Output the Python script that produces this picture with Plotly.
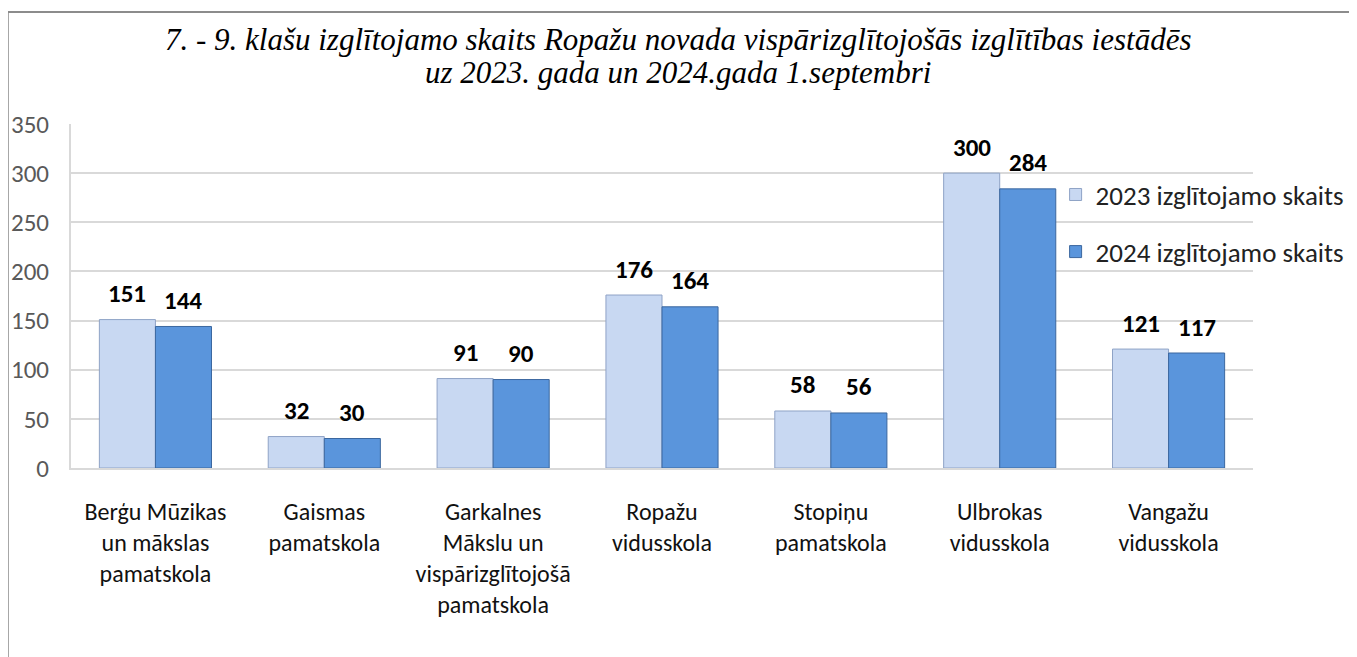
import plotly.graph_objects as go

categories = [
    "Berģu Mūzikas<br>un mākslas<br>pamatskola",
    "Gaismas<br>pamatskola",
    "Garkalnes<br>Mākslu un<br>vispārizglītojošā<br>pamatskola",
    "Ropažu<br>vidusskola",
    "Stopiņu<br>pamatskola",
    "Ulbrokas<br>vidusskola",
    "Vangažu<br>vidusskola",
]
series_names = ["2023 izglītojamo skaits", "2024 izglītojamo skaits"]
values_2023 = [151, 32, 91, 176, 58, 300, 121]
values_2024 = [144, 30, 90, 164, 56, 284, 117]
y_ticks = [0, 50, 100, 150, 200, 250, 300, 350]

title_lines = [
    "7. - 9. klašu izglītojamo skaits Ropažu novada vispārizglītojošās izglītības iestādēs",
    "uz 2023. gada un 2024.gada 1.septembri",
]

FONT = "Calibri, Carlito, Lato, sans-serif"
SERIF = "Times New Roman, Liberation Serif, serif"

fig = go.Figure()
fig.add_trace(go.Bar(
    x=categories, y=values_2023, name=series_names[0], legendgroup="a",
    marker=dict(color="#c8d8f2", line=dict(color="#8fa3c6", width=1)),
))
fig.add_trace(go.Bar(
    x=categories, y=values_2024, name=series_names[1], legendgroup="b",
    marker=dict(color="#5a95dc", line=dict(color="#3b679f", width=1)),
))

annotations = []
for cat, v1, v2 in zip(categories, values_2023, values_2024):
    for v, dx in ((v1, -28), (v2, 28)):
        annotations.append(dict(
            x=cat, y=v, xref="x", yref="y", text=str(v), showarrow=False,
            xshift=dx, yshift=26, yanchor="middle",
            font=dict(family=FONT, size=25, color="#000000", weight="bold"),
        ))

for line, ypos in zip(title_lines, (1.247, 1.151)):
    annotations.append(dict(
        x=0.5135, xref="paper", y=ypos, yref="paper", text=line, showarrow=False,
        xanchor="center", yanchor="middle",
        font=dict(family=SERIF, size=31, color="#000000", style="italic"),
    ))

fig.update_layout(
    width=1357, height=657,
    margin=dict(l=63, r=112, t=116, b=197),
    paper_bgcolor="white", plot_bgcolor="white",
    barmode="group", bargap=0.336, bargroupgap=0,
    font=dict(family=FONT, size=24, color="#222222"),
    legend=dict(
        x=0.833, y=0.865, xanchor="left", yanchor="top",
        bgcolor="rgba(0,0,0,0)", tracegroupgap=19,
        font=dict(family=FONT, size=27, color="#222222"),
        traceorder="grouped",
    ),
    annotations=annotations,
    shapes=[
        dict(type="line", xref="paper", yref="paper", x0=-0.0535, x1=1.2, y0=1.3256, y1=1.3256,
             line=dict(color="#8c8c8c", width=2)),
        dict(type="line", xref="paper", yref="paper", x0=-0.0535, x1=-0.0535, y0=1.3256, y1=-0.6,
             line=dict(color="#8c8c8c", width=2)),
    ],
)
fig.update_xaxes(
    showline=True, linecolor="#d9d9d9", linewidth=2, automargin=False,
    tickfont=dict(family=FONT, size=24, color="#111111"),
    ticklabelstandoff=21, ticks="",
)
fig.update_yaxes(
    range=[0, 350], tickvals=y_ticks, showgrid=True, gridcolor="#d9d9d9", gridwidth=2,
    showline=True, linecolor="#d9d9d9", linewidth=2, zeroline=False, automargin=False,
    tickfont=dict(family=FONT, size=25, color="#595959"),
    ticklabelstandoff=15, ticks="",
)

fig.write_html("out.html")
